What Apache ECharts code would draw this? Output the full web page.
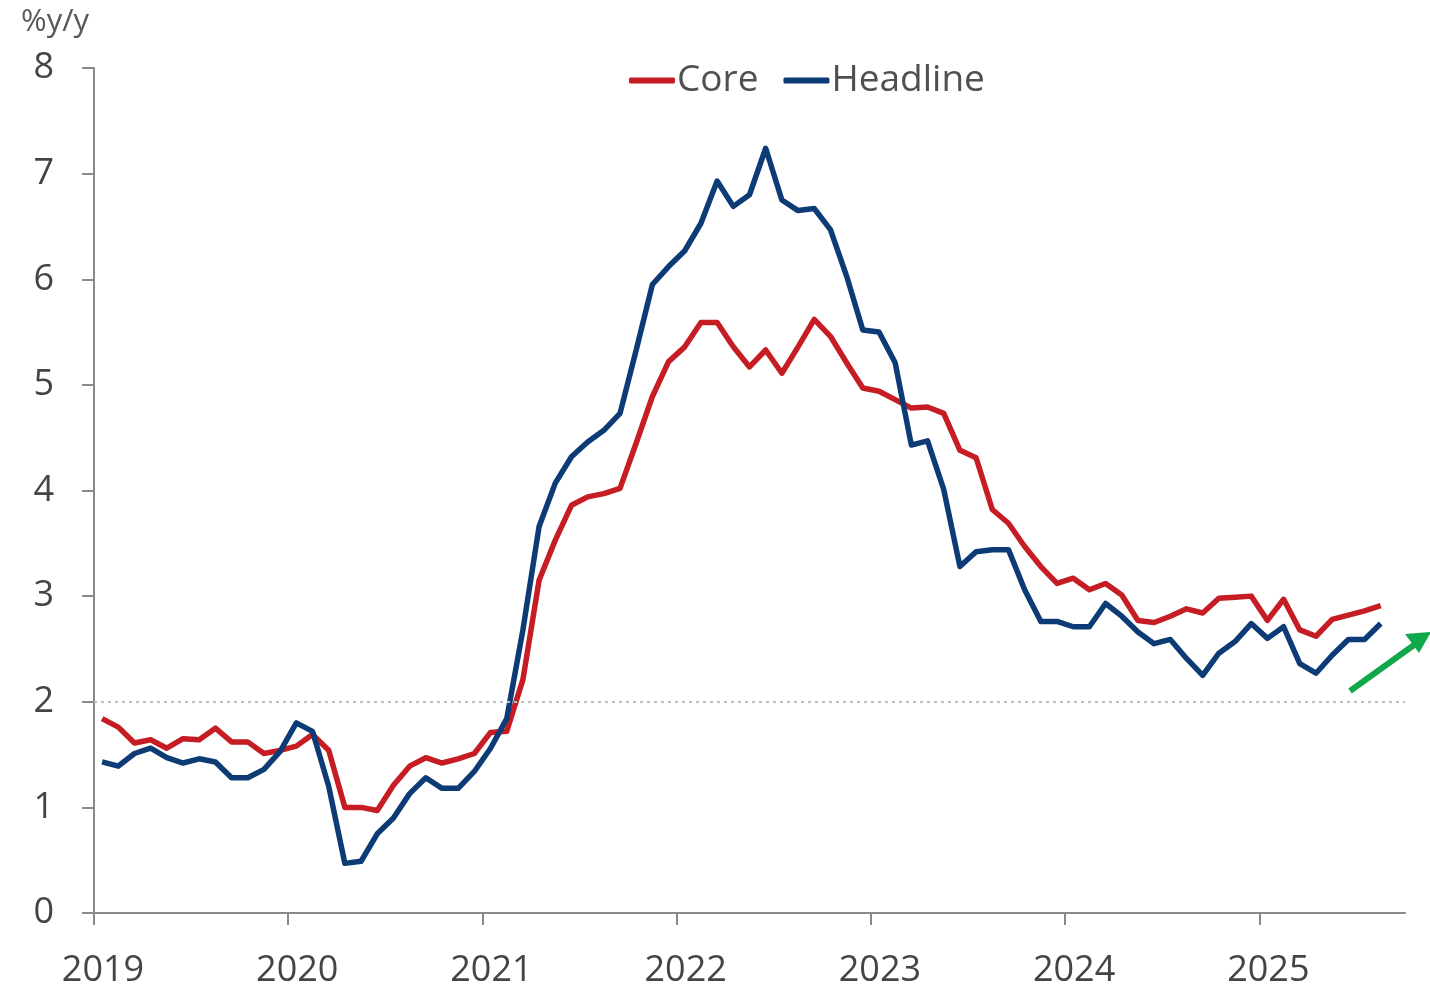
<!DOCTYPE html>
<html>
<head>
<meta charset="utf-8">
<script src="https://cdn.jsdelivr.net/npm/echarts@6/dist/echarts.min.js"></script>
<style>
  html, body { margin: 0; padding: 0; background: #ffffff; }
  #chart { width: 1430px; height: 989px; }
</style>
</head>
<body>
<div id="chart"></div>
<script>
// PCE inflation, % change on a year earlier, monthly from Jan 2019 to Aug 2025
const firstYear = 2019;
const yearTicks = [2019, 2020, 2021, 2022, 2023, 2024, 2025];
const yTicks = [0, 1, 2, 3, 4, 5, 6, 7, 8];
const targetRate = 2;

const core = [
  1.84, 1.76, 1.61, 1.64, 1.56, 1.65, 1.64, 1.75, 1.62, 1.62, 1.51, 1.54,
  1.58, 1.69, 1.54, 1.00, 1.00, 0.97, 1.21, 1.39, 1.47, 1.42, 1.46, 1.51,
  1.71, 1.72, 2.21, 3.15, 3.53, 3.86, 3.94, 3.97, 4.02, 4.45, 4.89, 5.22,
  5.36, 5.59, 5.59, 5.36, 5.17, 5.33, 5.11, 5.36, 5.62, 5.46, 5.21, 4.97,
  4.94, 4.86, 4.78, 4.79, 4.73, 4.38, 4.31, 3.82, 3.69, 3.47, 3.28, 3.12,
  3.17, 3.06, 3.12, 3.01, 2.77, 2.75, 2.81, 2.88, 2.84, 2.98, 2.99, 3.00,
  2.77, 2.97, 2.68, 2.62, 2.78, 2.82, 2.86, 2.91
];

const headline = [
  1.43, 1.39, 1.51, 1.56, 1.47, 1.42, 1.46, 1.43, 1.28, 1.28, 1.36, 1.53,
  1.80, 1.72, 1.20, 0.47, 0.49, 0.75, 0.90, 1.13, 1.28, 1.18, 1.18, 1.34,
  1.56, 1.84, 2.68, 3.66, 4.07, 4.32, 4.46, 4.57, 4.73, 5.33, 5.95, 6.12,
  6.27, 6.53, 6.93, 6.69, 6.80, 7.24, 6.75, 6.65, 6.67, 6.47, 6.03, 5.52,
  5.50, 5.21, 4.43, 4.47, 4.01, 3.28, 3.42, 3.44, 3.44, 3.06, 2.76, 2.76,
  2.71, 2.71, 2.93, 2.81, 2.66, 2.55, 2.59, 2.41, 2.25, 2.46, 2.57, 2.74,
  2.60, 2.71, 2.36, 2.27, 2.44, 2.59, 2.59, 2.74
];

// each monthly reading sits in the middle of its month on a decimal-year axis
const monthPos = (i) => firstYear + (i + 0.5) / 12;
const toPairs = (arr) => arr.map((v, i) => [monthPos(i), v]);

const FONT = '"Open Sans", "Noto Sans", sans-serif';
const AXIS_GREY = '#8a8a8a';
const TEXT_GREY = '#444444';
const RED = '#C61C24';
const NAVY = '#0C3B75';

const chart = echarts.init(document.getElementById('chart'), null, { renderer: 'canvas' });

chart.setOption({
  backgroundColor: '#ffffff',
  animation: false,
  textStyle: { fontFamily: FONT },
  title: {
    text: '%y/y',
    left: 16,
    top: 2,
    textStyle: { fontFamily: FONT, fontSize: 31, fontWeight: 'normal', color: '#595959' }
  },
  legend: {
    data: ['Core', 'Headline'],
    left: 624,
    top: 57,
    icon: 'roundRect',
    itemWidth: 46,
    itemHeight: 6,
    itemGap: 25,
    textStyle: { fontFamily: FONT, fontSize: 37, color: '#505050', padding: [0, 0, 0, -3] }
  },
  grid: { left: 94, right: 25, top: 68, bottom: 76 },
  xAxis: {
    type: 'value',
    min: firstYear,
    max: firstYear + 81 / 12,
    interval: 1,
    axisLine: { show: true, lineStyle: { color: AXIS_GREY, width: 2 } },
    axisTick: {
      show: true,
      length: 12,
      customValues: yearTicks,
      lineStyle: { color: AXIS_GREY, width: 2 }
    },
    axisLabel: {
      customValues: yearTicks,
      formatter: (v) => String(Math.round(v)),
      fontFamily: FONT,
      fontSize: 36,
      color: TEXT_GREY,
      margin: 40,
      padding: [0, 0, 0, 18]
    },
    splitLine: { show: false }
  },
  yAxis: {
    type: 'value',
    min: yTicks[0],
    max: yTicks[yTicks.length - 1],
    interval: 1,
    axisLine: { show: true, lineStyle: { color: AXIS_GREY, width: 2 } },
    axisTick: { show: true, length: 12, lineStyle: { color: AXIS_GREY, width: 2 } },
    axisLabel: {
      fontFamily: FONT,
      fontSize: 36,
      color: TEXT_GREY,
      margin: 40
    },
    splitLine: { show: false }
  },
  series: [
    {
      name: 'Core',
      type: 'line',
      data: toPairs(core),
      showSymbol: false,
      symbol: 'none',
      lineStyle: { color: RED, width: 5.5, join: 'round' },
      itemStyle: { color: RED },
      markLine: {
        silent: true,
        symbol: 'none',
        label: { show: false },
        lineStyle: { color: '#bdbdbd', width: 2, type: [3, 4] },
        data: [{ yAxis: targetRate }]
      }
    },
    {
      name: 'Headline',
      type: 'line',
      data: toPairs(headline),
      showSymbol: false,
      symbol: 'none',
      lineStyle: { color: NAVY, width: 5.5, join: 'round' },
      itemStyle: { color: NAVY }
    }
  ],
  graphic: [
    {
      type: 'group',
      silent: true,
      children: [
        {
          type: 'line',
          shape: { x1: 1350, y1: 691, x2: 1414, y2: 645 },
          style: { stroke: '#10A84A', lineWidth: 6 }
        },
        {
          type: 'polygon',
          shape: { points: [[1431, 632], [1419, 653], [1405, 634]] },
          style: { fill: '#10A84A' }
        }
      ]
    }
  ]
});
</script>
</body>
</html>
